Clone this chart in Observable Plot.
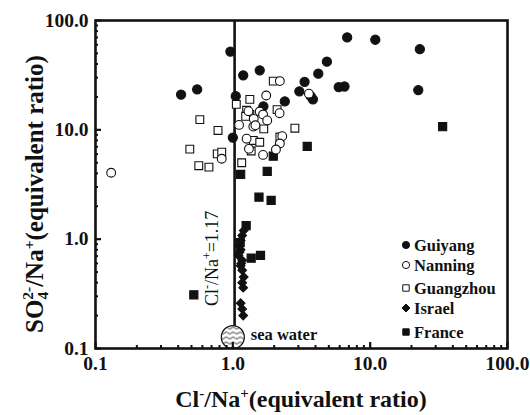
<!DOCTYPE html>
<html><head><meta charset="utf-8">
<script src="https://cdn.jsdelivr.net/npm/d3@7"></script>
<script src="https://cdn.jsdelivr.net/npm/@observablehq/plot@0.6"></script>
<style>body{margin:0;background:#fff} svg{display:block}</style>
</head><body><div id="chart"></div>
<script>
// Cl-/Na+ (x) vs SO4 2-/Na+ (y), equivalent ratios
const guiyang = [[0.96,52],[1.19,31.5],[1.57,35],[0.42,21],[0.55,23.4],[1.05,20.3],[1.0,8.5],[1.67,16.4],[2.39,18.2],[3.05,22.5],[6.8,70],[10.9,66.7],[23.0,54.7],[4.84,42],[4.19,32.6],[3.33,27.5],[3.83,19.0],[3.7,20.2],[5.9,24.6],[6.5,24.9],[22.4,23.1]];
const nanning = [[0.13,4.05],[2.2,27.9],[1.75,20.6],[3.58,21.4],[1.57,14.7],[1.66,13.8],[2.19,14.2],[1.78,12.2],[1.42,12.6],[1.41,10.7],[1.11,11.1],[1.26,8.3],[2.29,8.75],[2.2,7.5],[2.06,6.6],[1.66,5.9],[0.83,5.44],[1.31,6.7],[1.3,14.8],[1.46,11.0]];
const guangzhou = [[1.97,27.9],[1.33,19],[1.06,17.1],[1.26,15.1],[1.33,13.8],[1.24,13.3],[2.1,15.3],[1.68,10.2],[2.83,10.35],[0.575,12.4],[0.78,9.87],[0.486,6.66],[0.77,6.03],[0.83,6.25],[0.565,4.7],[0.67,4.56],[1.16,5.0],[1.41,8.0],[1.57,7.7],[1.36,6.4],[2.2,8.6]];
const israel = [[1.2,1.2],[1.17,1.08],[1.14,0.97],[1.1,0.87],[1.14,0.8],[1.12,0.76],[1.1,0.71],[1.17,0.64],[1.15,0.6],[1.14,0.57],[1.17,0.52],[1.2,0.45],[1.17,0.4],[1.19,0.36],[1.14,0.26],[1.17,0.23],[1.19,0.2]];
const france = [[33.7,10.7],[3.48,7.05],[1.97,5.74],[1.78,4.16],[1.14,3.91],[1.55,2.42],[1.9,2.26],[1.25,1.33],[1.36,0.67],[1.59,0.71],[0.52,0.31],[1.13,0.93]];

const seriesNames = ["Guiyang","Nanning","Guangzhou","Israel","France"];
const seaWater = [[1.0,0.127]];
const refLineX = 1.03;          // drawn position of the Cl-/Na+ = 1.17 line
const refLineY = [0.16,100];
const refLabelY = 0.66;
const majorTicks = [0.1,1,10,100];
const majorLabels = ["0.1","1.0","10.0","100.0"];
const minorTicks = [-1,0,1].flatMap(k => [2,3,4,5,6,7,8,9].map(m => m*10**k));

const styles = {
  Guiyang:   {symbol:"circle",  fill:"#111", stroke:"#111", r:4.6},
  Nanning:   {symbol:"circle",  fill:"#fff", stroke:"#111", r:4.4},
  Guangzhou: {symbol:"square",  fill:"#fff", stroke:"#111", r:4.4},
  Israel:    {symbol:"diamond2",fill:"#111", stroke:"#111", r:3.9},
  France:    {symbol:"square",  fill:"#111", stroke:"#111", r:4.6}
};
const seriesData = {Guiyang:guiyang, Nanning:nanning, Guangzhou:guangzhou, Israel:israel, France:france};

const font = "'Liberation Serif','Times New Roman',serif";
const ink = "#111";

const dotMarks = ["France","Israel","Guiyang","Guangzhou","Nanning"].map(name => {
  const s = styles[name];
  return Plot.dot(seriesData[name].map(([x,y]) => ({x,y})), {x:"x", y:"y", symbol:()=>s.symbol, fill:s.fill, stroke:s.stroke, strokeWidth:1.1, r:s.r});
});

const chart = Plot.plot({
  width:530, height:415,
  marginLeft:95, marginRight:23, marginTop:20, marginBottom:67,
  style:{fontFamily:font, background:"#fff", color:ink},
  x:{type:"log", domain:[0.1,100], label:null},
  y:{type:"log", domain:[0.1,100], label:null},
  symbol:{type:"identity"},
  marks:[
    Plot.ruleX([refLineX], {y1:refLineY[0], y2:refLineY[1], stroke:ink, strokeWidth:2.6}),
    ...dotMarks,
    Plot.dot(seaWater, {x:d=>d[0], y:d=>d[1], r:11.5, fill:"url(#waves)", stroke:ink, strokeWidth:1.2}),
    Plot.frame({stroke:ink, strokeWidth:2.6}),
    Plot.axisX({ticks:minorTicks, tickSize:-3, tickFormat:()=>"", strokeWidth:2}),
    Plot.axisY({ticks:minorTicks, tickSize:-3, tickFormat:()=>"", strokeWidth:2}),
    Plot.axisX({ticks:majorTicks, tickSize:-6, tickFormat:()=>"", strokeWidth:2.2}),
    Plot.axisY({ticks:majorTicks, tickSize:-6, tickFormat:()=>"", strokeWidth:2.2}),
    Plot.axisX({ticks:majorTicks, tickSize:0, tickPadding:8, tickFormat:d=>majorLabels[majorTicks.indexOf(d)], fontSize:19.5, fontWeight:"bold", fill:ink}),
    Plot.axisY({ticks:majorTicks, tickSize:0, tickPadding:7, tickFormat:d=>majorLabels[majorTicks.indexOf(d)], fontSize:19.5, fontWeight:"bold", fill:ink}),
    Plot.text(seaWater, {x:d=>d[0], y:d=>d[1], text:()=>"sea water", dx:18, dy:-2, textAnchor:"start", fontSize:16.5, fontWeight:"bold", fill:ink})
  ]
});
document.getElementById("chart").appendChild(chart);

const svg = d3.select(chart);
const sx = chart.scale("x"), sy = chart.scale("y");

// wave pattern for the sea water symbol
const pat = svg.insert("defs", ":first-child").append("pattern")
  .attr("id","waves").attr("patternUnits","userSpaceOnUse").attr("width",7).attr("height",5);
pat.append("rect").attr("width",7).attr("height",5).attr("fill","#fff");
pat.append("path").attr("d","M0,2.5 Q1.75,0.5 3.5,2.5 T7,2.5").attr("fill","none").attr("stroke",ink).attr("stroke-width",0.9);

// Reference line label
const lx = sx.apply(refLineX) - 16, ly = sy.apply(refLabelY);
const t1 = svg.append("text").attr("transform",`translate(${lx},${ly}) rotate(-90)`)
  .attr("text-anchor","middle").attr("font-family",font).attr("font-size",18).attr("fill",ink);
t1.append("tspan").text("Cl");
t1.append("tspan").attr("dy",-7).attr("font-size",12).text("-");
t1.append("tspan").attr("dy",7).text("/Na");
t1.append("tspan").attr("dy",-7).attr("font-size",12).text("+");
t1.append("tspan").attr("dy",7).text("=1.17");

// X title
const xt = svg.append("text").attr("x",(sx.range[0]+sx.range[1])/2).attr("y",407)
  .attr("text-anchor","middle").attr("font-family",font).attr("font-size",24).attr("font-weight","bold").attr("fill",ink);
xt.append("tspan").text("Cl");
xt.append("tspan").attr("dy",-9).attr("font-size",15).text("-");
xt.append("tspan").attr("dy",9).text("/Na");
xt.append("tspan").attr("dy",-9).attr("font-size",15).text("+");
xt.append("tspan").attr("dy",9).text("(equivalent ratio)");

// Y title
const ycy = (sy.range[0]+sy.range[1])/2 + 10;
const yt = svg.append("text").attr("transform",`translate(43,${ycy}) rotate(-90)`)
  .attr("text-anchor","middle").attr("font-family",font).attr("font-size",25).attr("font-weight","bold").attr("fill",ink);
yt.append("tspan").text("SO");
yt.append("tspan").attr("dy",5).attr("font-size",15.5).text("4");
yt.append("tspan").attr("dx",-8).attr("dy",-15).attr("font-size",15.5).text("2-");
yt.append("tspan").attr("dy",10).text("/Na");
yt.append("tspan").attr("dy",-9).attr("font-size",15.5).text("+");
yt.append("tspan").attr("dy",9).text("(equivalent ratio)");

// Legend
const legendRows = [245,265,288,308,332];
const lg = svg.append("g");
const symMap = {circle:d3.symbolCircle, square:d3.symbolSquare, diamond2:d3.symbolDiamond2};
seriesNames.forEach((name,i) => {
  const s = styles[name];
  const r = 3.6;
  lg.append("path").attr("transform",`translate(406,${legendRows[i]})`)
    .attr("d", d3.symbol(symMap[s.symbol], Math.PI*r*r)())
    .attr("fill", s.fill).attr("stroke", s.stroke).attr("stroke-width",1);
  lg.append("text").attr("x",414).attr("y",legendRows[i]).attr("dy","0.35em").attr("text-anchor","start")
    .attr("font-family",font).attr("font-size",16.5).attr("font-weight","bold").attr("fill",ink).text(name);
});
</script>
</body></html>
